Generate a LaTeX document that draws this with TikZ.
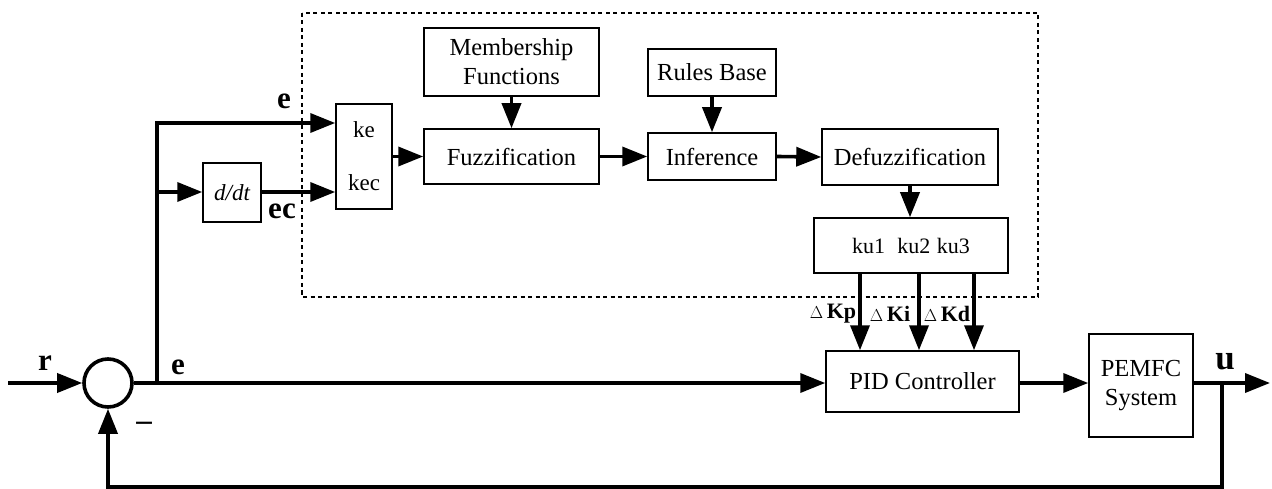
\documentclass[tikz,border=0pt]{standalone}
\usepackage{fontspec}
\setmainfont{Liberation Serif}
\usetikzlibrary{arrows.meta,calc}
\begin{document}
\begin{tikzpicture}[x=1pt,y=-1pt,
  blk/.style={draw,line width=1.5pt,inner sep=0pt,align=center,font=\fontsize{24.5}{29}\selectfont},
  flow/.style={line width=3.6pt,-{Triangle[length=25pt,width=19pt]}},
  plain/.style={line width=3.6pt},
  lbl/.style={inner sep=0pt,font=\fontsize{31}{33}\selectfont\bfseries},
  dlbl/.style={inner sep=0pt,font=\fontsize{22}{24}\selectfont\bfseries}]
\useasboundingbox (0,0) rectangle (1272,489);
% dashed fuzzy region
\draw[line width=2pt,dash pattern=on 4pt off 3.5pt] (302,13) rectangle (1038,297);
% blocks
\node[blk,minimum width=175pt,minimum height=68pt] (memb) at (511.5,62) {Membership\\Functions};
\node[blk,minimum width=175pt,minimum height=55pt] (fuzz) at (511.5,156.5) {Fuzzification};
\node[blk,minimum width=128pt,minimum height=47pt] (rules) at (712,72.5) {Rules Base};
\node[blk,minimum width=128pt,minimum height=47pt] (inf) at (712,156.5) {Inference};
\node[blk,minimum width=176pt,minimum height=56pt] (defz) at (910,157) {Defuzzification};
\node[blk,minimum width=194pt,minimum height=55pt,font=\fontsize{22}{24}\selectfont] (ku) at (911,245.5) {ku1\hspace{0.55em}ku2\hspace{0.3em}ku3};
\node[blk,minimum width=56pt,minimum height=105pt] (kb) at (364,156.5) {};
\node[inner sep=0pt,font=\fontsize{23}{25}\selectfont] (ket) at (364,130) {ke};
\node[inner sep=0pt,font=\fontsize{23}{25}\selectfont] (kect) at (364,183) {kec};
\node[blk,minimum width=58pt,minimum height=59pt,font=\fontsize{23}{25}\selectfont\itshape] (ddt) at (232,192.5) {d/dt};
\node[blk,minimum width=193pt,minimum height=61pt] (pid) at (922.5,381.5) {PID Controller};
\node[blk,minimum width=104pt,minimum height=103pt] (pem) at (1141,385.5) {PEMFC\\System};
\node[draw,circle,line width=3.6pt,minimum size=48pt,inner sep=0pt] (sum) at (108,383) {};
% coordinates
\coordinate (rin) at (8,383);
\coordinate (j1) at (157,383);
\coordinate (j2) at (157,123);
\coordinate (j3) at (157,192);
\coordinate (uo) at (1222,383);
\coordinate (uend) at (1270,383);
\coordinate (fb1) at (1222,487);
\coordinate (fb2) at (108,487);
\coordinate (kp) at (860,0);
\coordinate (ki) at (919,0);
\coordinate (kd) at (974,0);
% connectors
\draw[flow] (rin) -- (sum.west);
\draw[flow] (sum.east) -- (pid.west |- sum.east);
\draw[flow] (j1) -- (j2) -- (kb.west |- j2);
\draw[flow] (j3) -- (ddt.west |- j3);
\draw[flow] (ddt.east |- j3) -- (kb.west |- j3);
\draw[flow] (kb.east |- fuzz.west) -- (fuzz.west);
\draw[flow] (fuzz.east) -- (inf.west);
\draw[flow] (inf.east) -- (defz.west);
\draw[flow] (memb.south) -- (fuzz.north);
\draw[flow] (rules.south) -- (inf.north);
\draw[flow] (defz.south) -- (ku.north -| defz.south);
\draw[flow] (ku.south -| kp) -- (pid.north -| kp);
\draw[flow] (ku.south -| ki) -- (pid.north -| ki);
\draw[flow] (ku.south -| kd) -- (pid.north -| kd);
\draw[flow] (pid.east |- sum.east) -- (pem.west |- sum.east);
\draw[flow] (pem.east |- uo) -- (uend);
\draw[flow] (uo) -- (fb1) -- (fb2) -- (sum.south);
% labels
\node[lbl] (lr) at (45,363) {r};
\node[lbl] (le1) at (178,367) {e};
\node[lbl] (lminus) at (144,426) {--};
\node[lbl] (le2) at (284,101) {e};
\node[lbl] (lec) at (282,211) {ec};
\node[lbl,font=\fontsize{35}{37}\selectfont\bfseries] (lu) at (1225,362) {u};
\node[dlbl] (lkp) at (833,314) {{\fontsize{18}{20}\selectfont\mdseries$\Delta$}\,Kp};
\node[dlbl] (lki) at (890,314) {{\fontsize{18}{20}\selectfont\mdseries$\Delta$}\,Ki};
\node[dlbl] (lkd) at (947,314) {{\fontsize{18}{20}\selectfont\mdseries$\Delta$}\,Kd};
\end{tikzpicture}
\end{document}
